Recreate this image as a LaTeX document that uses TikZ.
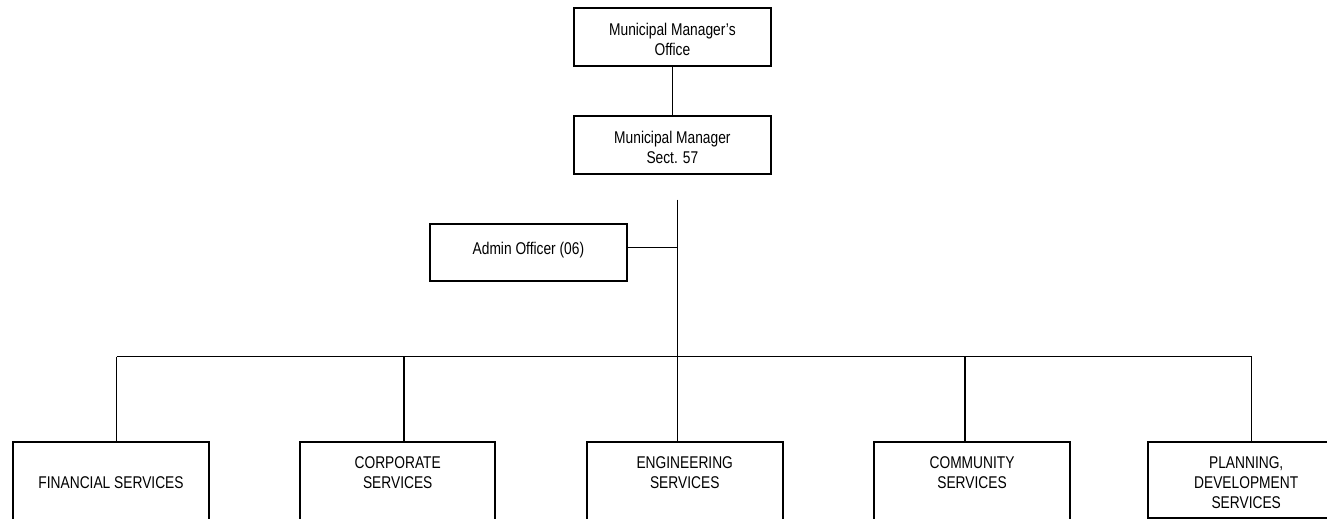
\documentclass[tikz,border=0pt]{standalone}
\usepackage{fontspec}
\setmainfont{Liberation Sans}[FakeStretch=0.81]
\begin{document}
\begin{tikzpicture}[x=1pt,y=-1pt,
  unit/.style={draw, rectangle, line width=1.8pt, align=center,
    inner xsep=0pt, inner ysep=0pt, anchor=north west,
    font=\fontsize{17}{20}\selectfont},
  link/.style={line width=1.2pt}]
\useasboundingbox (0,0) rectangle (1327,519);
\clip (0,0) rectangle (1327,519);

% top of the chart (text height is measured to the last baseline)
\node[unit, minimum width=197pt, text height=47.4pt, text depth=10.6pt] (mmo) at (573,7) {Municipal Manager's\\Office};
\node[unit, minimum width=197pt, text height=47.8pt, text depth=9.9pt] (mm) at (573,115) {Municipal Manager\\Sect. 57};
\node[unit, minimum width=196.4pt, text height=29.8pt, text depth=26.9pt] (admin) at (429.3,223.3) {Admin Officer (06)};

% departments
\node[unit, minimum width=196.3pt, text height=46.8pt, text depth=40pt] (fin) at (12,441) {FINANCIAL SERVICES};
\node[unit, minimum width=195pt, text height=46.8pt, text depth=40pt] (corp) at (299.3,441) {CORPORATE\\SERVICES};
\node[unit, minimum width=195.7pt, text height=46.8pt, text depth=40pt] (eng) at (586,441) {ENGINEERING\\SERVICES};
\node[unit, minimum width=195.7pt, text height=46.8pt, text depth=40pt] (comm) at (873.3,441) {COMMUNITY\\SERVICES};
\node[unit, minimum width=196pt, text height=66.6pt, text depth=9.7pt] (plan) at (1147.3,441) {PLANNING,\\DEVELOPMENT\\SERVICES};

% connector points
\coordinate (spinetop) at (677.5,199.5);
\coordinate (hub) at (677.5,356.7);
\coordinate (aj) at (677.5,247.3);
\coordinate (d1) at (116.7,356.7);
\coordinate (d2) at (404,356.7);
\coordinate (d4) at (965,356.7);
\coordinate (d5) at (1251.7,356.7);

\draw[link] (mmo.south) -- (mm.north);
\draw[link] (spinetop) -- (hub) -- (hub |- eng.north);
\draw[link] (aj) -- (aj -| admin.east);
\draw[link] (d1) -- (d5);
\draw[link] (d1) -- (d1 |- fin.north);
\draw[link] (d2) -- (d2 |- corp.north);
\draw[link] (d4) -- (d4 |- comm.north);
\draw[link] (d5) -- (d5 |- plan.north);
\end{tikzpicture}
\end{document}
